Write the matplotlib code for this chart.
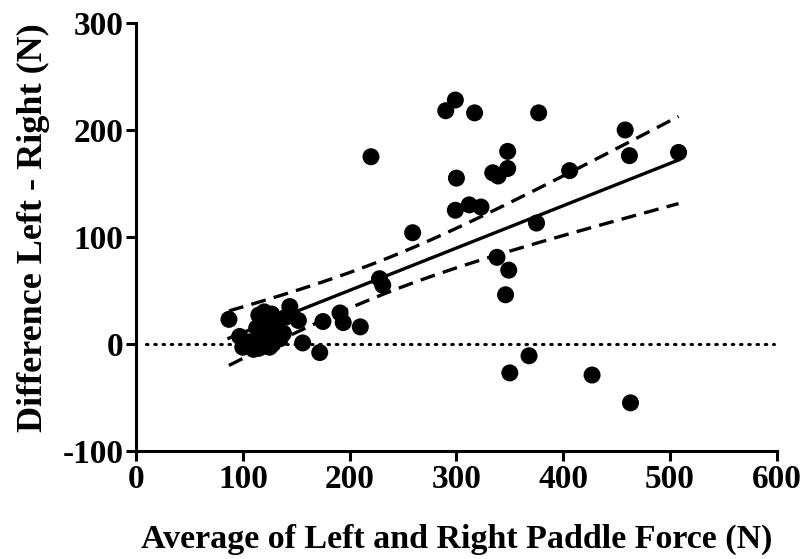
import numpy as np
import matplotlib
matplotlib.use("Agg")
import matplotlib.pyplot as plt

# Average of left and right paddle force (N)
avg_force = [
    # low-force cluster
    87, 97, 100, 105, 110, 113, 115, 115, 118, 120, 120, 122, 125, 125, 127,
    128, 130, 132, 135, 138, 140, 144, 152, 156, 118, 123, 133,
    # remaining points
    172, 175, 191, 194, 210, 220, 228, 231, 259,
    290, 299, 317, 300, 334, 339, 299, 312, 323, 377, 458, 348, 348, 406,
    462, 508, 375, 338, 346, 349, 368, 350, 427, 463,
]
# Difference left - right (N)
diff_force = [
    23, 7, -3, 2, -5, 15, 27, -4, 5, 20, 30, -2, 10, -3, 28,
    0, 15, 22, 5, 10, 25, 35, 22, 1, 12, 18, 8,
    -8, 21, 29, 20, 16, 175, 61, 55, 104,
    218, 228, 216, 155, 160, 157, 125, 130, 128, 216, 200, 180, 164, 162,
    176, 179, 113, 81, 46, 69, -11, -27, -29, -55,
]

x_ticks = [0, 100, 200, 300, 400, 500, 600]
y_ticks = [-100, 0, 100, 200, 300]
x_label = "Average of Left and Right Paddle Force (N)"
y_label = "Difference Left - Right (N)"

x = np.array(avg_force, float)
y = np.array(diff_force, float)
n = len(x)
slope, intercept = np.polyfit(x, y, 1)
xs = np.linspace(x.min(), x.max(), 200)
yhat = intercept + slope * xs
resid = y - (intercept + slope * x)
s = np.sqrt(np.sum(resid ** 2) / (n - 2))
sxx = np.sum((x - x.mean()) ** 2)
t = 2.0
half = t * s * np.sqrt(1.0 / n + (xs - x.mean()) ** 2 / sxx)

plt.rcParams['font.family'] = ['Liberation Serif', 'DejaVu Serif']
plt.rcParams['font.weight'] = 'bold'

fig = plt.figure(figsize=(8.03, 5.59), dpi=100)
ax = fig.add_axes([0.1694, 0.1932, 0.798, 0.7657])

ax.axhline(0, xmin=0.015, xmax=0.995, color='black', lw=2.2,
           linestyle=(0, (0.5, 2.2)), dash_capstyle='round', zorder=1)
ax.scatter(x, y, s=150, color='black', edgecolors='none', zorder=3)
ax.plot(xs, yhat, color='black', lw=2.4, zorder=2)
ax.plot(xs, yhat + half, color='black', lw=2.4, linestyle=(0, (4.5, 2.5)), zorder=2)
ax.plot(xs, yhat - half, color='black', lw=2.4, linestyle=(0, (4.5, 2.5)), zorder=2)

ax.set_xlim(0, 600)
ax.set_ylim(-100, 300)
ax.set_xticks(x_ticks)
ax.set_yticks(y_ticks)
ax.set_xticklabels([str(v) for v in x_ticks])
ax.set_yticklabels([str(v) for v in y_ticks])
for sp in ['top', 'right']:
    ax.spines[sp].set_visible(False)
for sp in ['left', 'bottom']:
    ax.spines[sp].set_linewidth(2.2)
ax.tick_params(axis='both', width=2.2, length=7, labelsize=24, pad=2)
for lab in ax.get_xticklabels() + ax.get_yticklabels():
    lab.set_fontweight('bold')
ax.set_xlabel(x_label, fontsize=24.5, fontweight='bold', labelpad=21)
ax.set_ylabel(y_label, fontsize=26, fontweight='bold')
ax.yaxis.set_label_coords(-0.134, 0.521)

fig.savefig('out.png', dpi=100)
